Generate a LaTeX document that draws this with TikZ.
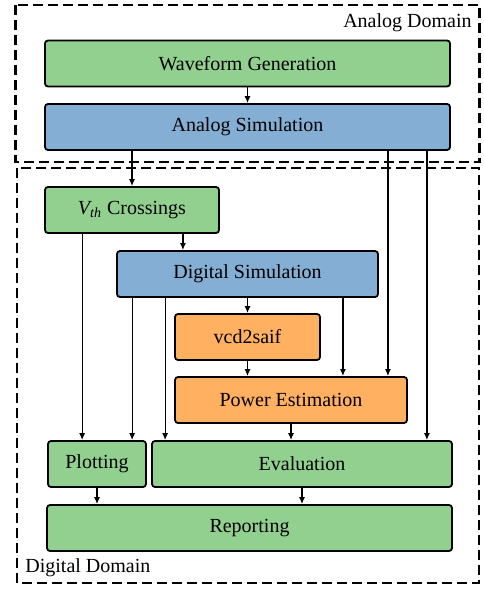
\documentclass[tikz,border=0pt]{standalone}
\usepackage{fontspec}
\setmainfont{Liberation Serif}
\usepackage{xcolor}
\usetikzlibrary{arrows.meta}
\definecolor{boxgreen}{RGB}{146,208,143}
\definecolor{boxblue}{RGB}{132,174,212}
\definecolor{boxorange}{RGB}{255,176,97}

\begin{document}
\begin{tikzpicture}
  [x=0.5pt,y=-0.5pt,>={Latex[length=3.5pt,width=3pt]},
   box/.style={draw,line width=0.9pt,rounded corners=1.5pt,minimum height=23pt,inner sep=0pt,font=\normalsize},
   domainbox/.style={line width=1.4pt,dash pattern=on 5pt off 2.5pt},
   flow/.style={->,line width=0.6pt}]
  \useasboundingbox (0,0) rectangle (483,589);

  % domains
  \draw[domainbox] (15.5,5) rectangle (479.5,162);
  \draw[domainbox] (17,168) rectangle (479,583);
  \node[anchor=base east,inner sep=0pt] (adom) at (472,27)  {Analog Domain};
  \node[anchor=base west,inner sep=0pt] (ddom) at (25,572) {Digital Domain};

  % steps
  \node[box,fill=boxgreen,minimum width=202.5pt]  (wg)  at (247.5,63.5) {Waveform Generation};
  \node[box,fill=boxblue,minimum width=202.5pt]   (as)  at (247.5,127)  {Analog Simulation};
  \node[box,fill=boxgreen,minimum width=87pt]     (vt)  at (132,210)    {\textit{V\textsubscript{th}} Crossings};
  \node[box,fill=boxblue,minimum width=130.5pt]   (ds)  at (247.5,274)  {Digital Simulation};
  \node[box,fill=boxorange,minimum width=72.5pt]  (vcd) at (247.5,337)  {vcd2saif};
  \node[box,fill=boxorange,minimum width=116pt]   (pe)  at (291,400)    {Power Estimation};
  \node[box,fill=boxgreen,minimum width=49pt]     (pl)  at (97,464)     {Plotting};
  \node[box,fill=boxgreen,minimum width=150pt]    (ev)  at (302,464)    {Evaluation};
  \node[box,fill=boxgreen,minimum width=202.5pt]  (rep) at (249.5,528)  {Reporting};

  \foreach \from/\to in {wg/as,ds/vcd,vcd/pe,pe/ev,pl/rep,ev/rep}
    \draw[flow] (\from.south) -- (\from.south |- \to.north);

  \draw[flow] (as.south -| vt.north) -- (vt.north);
  \draw[flow] ([xshift=-31.5pt]as.south east) coordinate (a1) -- (a1 |- pe.north);
  \draw[flow] ([xshift=-12pt]as.south east) coordinate (a2) -- (a2 |- ev.north);
  \draw[flow] ([xshift=-18.5pt]vt.south east) coordinate (v1) -- (v1 |- ds.north);
  \draw[flow] ([xshift=19pt]vt.south west) coordinate (v2) -- (v2 |- pl.north);
  \draw[flow] ([xshift=8pt]ds.south west) coordinate (d1) -- (d1 |- pl.north);
  \draw[flow] ([xshift=24.5pt]ds.south west) coordinate (d2) -- (d2 |- ev.north);
  \draw[flow] ([xshift=-18pt]ds.south east) coordinate (d3) -- (d3 |- pe.north);

\end{tikzpicture}
\end{document}
